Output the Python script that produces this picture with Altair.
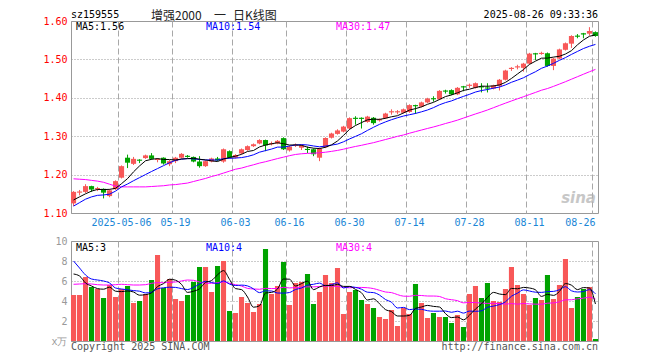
import altair as alt
import pandas as pd
import numpy as np

dates = [
    "2025-04-21", "2025-04-22", "2025-04-23", "2025-04-24", "2025-04-25", "2025-04-28", "2025-04-29", "2025-04-30",
    "2025-05-06", "2025-05-07", "2025-05-08", "2025-05-09", "2025-05-12", "2025-05-13", "2025-05-14", "2025-05-15", "2025-05-16",
    "2025-05-19", "2025-05-20", "2025-05-21", "2025-05-22", "2025-05-23", "2025-05-26", "2025-05-27", "2025-05-28", "2025-05-29", "2025-05-30",
    "2025-06-03", "2025-06-04", "2025-06-05", "2025-06-06", "2025-06-09", "2025-06-10", "2025-06-11", "2025-06-12", "2025-06-13",
    "2025-06-16", "2025-06-17", "2025-06-18", "2025-06-19", "2025-06-20", "2025-06-23", "2025-06-24", "2025-06-25", "2025-06-26", "2025-06-27",
    "2025-06-30", "2025-07-01", "2025-07-02", "2025-07-03", "2025-07-04", "2025-07-07", "2025-07-08", "2025-07-09", "2025-07-10", "2025-07-11",
    "2025-07-14", "2025-07-15", "2025-07-16", "2025-07-17", "2025-07-18", "2025-07-21", "2025-07-22", "2025-07-23", "2025-07-24", "2025-07-25",
    "2025-07-28", "2025-07-29", "2025-07-30", "2025-07-31", "2025-08-01", "2025-08-04", "2025-08-05", "2025-08-06", "2025-08-07", "2025-08-08",
    "2025-08-11", "2025-08-12", "2025-08-13", "2025-08-14", "2025-08-15", "2025-08-18", "2025-08-19", "2025-08-20", "2025-08-21", "2025-08-22",
    "2025-08-25", "2025-08-26",
]

opens = [1.125, 1.153, 1.155, 1.170, 1.162, 1.163, 1.144, 1.162, 1.192, 1.244,
         1.228, 1.239, 1.243, 1.250, 1.238, 1.244, 1.227, 1.235, 1.244, 1.249,
         1.246, 1.234, 1.222, 1.234, 1.242, 1.234, 1.261, 1.244, 1.255, 1.264,
         1.274, 1.281, 1.290, 1.279, 1.281, 1.295, 1.263, 1.275, 1.270, 1.267,
         1.266, 1.244, 1.271, 1.296, 1.306, 1.312, 1.320, 1.348, 1.348, 1.337,
         1.348, 1.341, 1.347, 1.362, 1.362, 1.361, 1.363, 1.381, 1.377, 1.388,
         1.399, 1.396, 1.419, 1.420, 1.409, 1.430, 1.431, 1.426, 1.430, 1.427,
         1.424, 1.431, 1.447, 1.475, 1.479, 1.478, 1.489, 1.516, 1.514, 1.516,
         1.483, 1.502, 1.525, 1.541, 1.562, 1.568, 1.567, 1.571]
closes = [1.155, 1.156, 1.170, 1.161, 1.165, 1.153, 1.159, 1.183, 1.222, 1.231,
          1.241, 1.236, 1.250, 1.241, 1.241, 1.229, 1.235, 1.244, 1.254, 1.246,
          1.234, 1.222, 1.235, 1.242, 1.237, 1.266, 1.244, 1.251, 1.266, 1.274,
          1.279, 1.290, 1.276, 1.282, 1.288, 1.266, 1.273, 1.278, 1.276, 1.264,
          1.253, 1.268, 1.295, 1.307, 1.315, 1.325, 1.347, 1.345, 1.345, 1.351,
          1.334, 1.344, 1.359, 1.365, 1.365, 1.370, 1.381, 1.378, 1.388, 1.398,
          1.396, 1.418, 1.416, 1.409, 1.426, 1.427, 1.434, 1.438, 1.427, 1.424,
          1.432, 1.447, 1.471, 1.478, 1.482, 1.489, 1.515, 1.513, 1.517, 1.483,
          1.502, 1.526, 1.542, 1.561, 1.559, 1.565, 1.574, 1.561]
highs = [1.157, 1.160, 1.175, 1.171, 1.168, 1.164, 1.162, 1.185, 1.224, 1.252,
         1.246, 1.240, 1.252, 1.256, 1.243, 1.245, 1.238, 1.246, 1.256, 1.251,
         1.247, 1.248, 1.237, 1.244, 1.246, 1.268, 1.263, 1.253, 1.268, 1.276,
         1.281, 1.292, 1.291, 1.286, 1.290, 1.297, 1.275, 1.281, 1.278, 1.273,
         1.268, 1.270, 1.297, 1.309, 1.318, 1.327, 1.349, 1.352, 1.349, 1.353,
         1.350, 1.346, 1.361, 1.370, 1.368, 1.372, 1.383, 1.382, 1.390, 1.400,
         1.404, 1.420, 1.421, 1.422, 1.428, 1.431, 1.437, 1.440, 1.438, 1.438,
         1.434, 1.449, 1.473, 1.480, 1.486, 1.491, 1.517, 1.517, 1.520, 1.518,
         1.504, 1.528, 1.544, 1.563, 1.566, 1.569, 1.584, 1.573]
lows = [1.118, 1.146, 1.152, 1.155, 1.157, 1.138, 1.141, 1.160, 1.190, 1.217,
        1.225, 1.230, 1.241, 1.239, 1.232, 1.226, 1.222, 1.230, 1.242, 1.244,
        1.232, 1.218, 1.220, 1.232, 1.235, 1.231, 1.242, 1.242, 1.253, 1.262,
        1.272, 1.279, 1.261, 1.276, 1.279, 1.264, 1.260, 1.272, 1.264, 1.256,
        1.248, 1.235, 1.269, 1.294, 1.304, 1.310, 1.318, 1.330, 1.320, 1.335,
        1.330, 1.338, 1.345, 1.356, 1.357, 1.359, 1.361, 1.358, 1.375, 1.386,
        1.390, 1.394, 1.411, 1.407, 1.407, 1.417, 1.426, 1.424, 1.414, 1.414,
        1.422, 1.419, 1.445, 1.470, 1.474, 1.468, 1.487, 1.498, 1.512, 1.481,
        1.472, 1.500, 1.523, 1.530, 1.555, 1.555, 1.562, 1.559]
volumes = [4.6, 4.6, 6.4, 5.4, 5.2, 4.3, 5.6, 4.4, 5.2, 5.5,
           3.8, 4.0, 4.7, 6.1, 8.6, 5.3, 6.2, 4.2, 4.0, 4.6,
           5.9, 7.4, 7.4, 4.9, 7.5, 8.0, 3.0, 2.8, 4.4, 3.8,
           2.9, 3.7, 9.2, 4.7, 5.5, 7.9, 3.6, 5.8, 5.9, 6.7,
           3.7, 4.9, 6.6, 5.8, 7.3, 2.7, 4.9, 5.1, 4.1, 3.7,
           3.3, 2.4, 2.2, 3.1, 1.5, 3.3, 2.7, 5.7, 3.8, 2.3,
           2.8, 2.4, 2.4, 1.8, 2.6, 1.4, 4.7, 5.5, 4.3, 5.8,
           4.0, 3.9, 5.2, 7.4, 5.6, 4.7, 3.6, 4.3, 4.1, 6.6,
           4.2, 5.6, 8.2, 3.3, 4.4, 5.2, 5.4, 0.2]

ma5_head = [1.134, 1.142, 1.150, 1.157]
ma10_head = [1.118, 1.127, 1.136, 1.142, 1.146, 1.147, 1.149, 1.157, 1.168]
ma30_head = [1.189, 1.188, 1.187, 1.185, 1.183, 1.180, 1.175, 1.170, 1.168, 1.168,
             1.168, 1.168, 1.168, 1.169, 1.170, 1.171, 1.173, 1.174, 1.176, 1.178,
             1.182, 1.186, 1.190, 1.195, 1.199, 1.204, 1.209, 1.214, 1.217]
vma5_head = [6.7, 6.5, 5.8, 5.5]
vma10_head = [8.0, 7.3, 6.6, 6.2, 6.1, 6.0, 5.8, 5.3, 5.2]
vma30_head = [5.67, 5.70, 5.73, 5.70, 5.63, 5.60, 5.60, 5.63, 5.67, 5.63,
              5.60, 5.60, 5.63, 5.77, 5.83, 5.83, 5.87, 5.90, 6.00, 6.10,
              6.07, 5.90, 5.77, 5.77, 5.83, 5.90, 5.77, 5.63, 5.50]

price_ticks = [1.1, 1.2, 1.3, 1.4, 1.5, 1.6]
vol_ticks = [0, 2, 4, 6, 8, 10]
date_ticks = ["2025-05-06", "2025-05-19", "2025-06-03", "2025-06-16", "2025-06-30",
              "2025-07-14", "2025-07-28", "2025-08-11", "2025-08-26"]

df = pd.DataFrame({"date": dates, "open": opens, "close": closes, "high": highs,
                   "low": lows, "vol": volumes})
df["dir"] = np.where(df["close"] >= df["open"], "up", "down")


def moving(series, w, head):
    m = series.rolling(w).mean()
    m.iloc[:len(head)] = head
    return m


df["MA5"] = moving(df["close"], 5, ma5_head)
df["MA10"] = moving(df["close"], 10, ma10_head)
df["MA30"] = moving(df["close"], 30, ma30_head)
df["VMA5"] = moving(df["vol"], 5, vma5_head)
df["VMA10"] = moving(df["vol"], 10, vma10_head)
df["VMA30"] = moving(df["vol"], 30, vma30_head)

MONO = "DejaVu Sans Mono"
RED = "#f85858"
GREEN = "#00a300"
GRID = "#a8a8a8"
W, H1, H2 = 527, 192, 100

dir_color = alt.Color("dir:N", scale=alt.Scale(domain=["up", "down"], range=[RED, GREEN]), legend=None)

x_top = alt.X(
    "date:O", sort=None, title=None,
    scale=alt.Scale(paddingInner=0.15, paddingOuter=0),
    axis=alt.Axis(values=date_ticks, bandPosition=0, grid=True, gridDash=[6, 3], gridColor=GRID,
                  ticks=False, domain=False, labelAngle=0, labelOverlap=False, labelPadding=4,
                  labelFont=MONO, labelFontSize=10, labelColor="#1a86d6",
                  labelAlign={"condition": {"test": "datum.value == '2025-08-26'", "value": "right"}, "value": "center"},
                  labelExpr="datum.value == '2025-05-06' ? datum.value : slice(datum.value, 5)"),
)
x_bot = alt.X(
    "date:O", sort=None, title=None,
    scale=alt.Scale(paddingInner=0.15, paddingOuter=0),
    axis=alt.Axis(values=date_ticks, bandPosition=0, grid=True, gridDash=[6, 3], gridColor=GRID,
                  ticks=False, domain=False, labels=False),
)
price_axis = alt.Axis(values=price_ticks, format=".2f", grid=True, gridDash=[1, 2], gridColor="#999",
                      ticks=False, domain=False, labelFont=MONO, labelFontSize=10, labelColor="#ff0000",
                      labelPadding=4, labelFlush=False)
price_scale = alt.Scale(domain=[1.1, 1.6], nice=False, zero=False)
vol_axis = alt.Axis(values=vol_ticks, grid=True, gridDash=[1, 2], gridColor="#999",
                    ticks=False, domain=False, labelFont=MONO, labelFontSize=10, labelColor="#999",
                    labelPadding=4, labelFlush=False,
                    labelExpr="datum.value == 0 ? 'x万' : datum.label")
vol_scale = alt.Scale(domain=[0, 10], nice=False)


def note(text, x, y, color, align="left", font=MONO, size=10, **kw):
    return alt.Chart(pd.DataFrame({"t": [text]})).mark_text(
        align=align, baseline="middle", font=font, fontSize=size, color=color, **kw
    ).encode(text="t:N", x=alt.value(x), y=alt.value(y))


base = alt.Chart(df)
wicks = base.mark_rule(strokeWidth=1).encode(
    x=x_top, y=alt.Y("low:Q", scale=price_scale, axis=price_axis, title=None), y2="high:Q", color=dir_color)
bodies = base.mark_bar().encode(
    x=x_top, y=alt.Y("open:Q", scale=price_scale, axis=price_axis, title=None), y2="close:Q", color=dir_color)
lines = [
    base.mark_line(color=c, strokeWidth=1).encode(
        x=x_top, y=alt.Y(f"{m}:Q", scale=price_scale, axis=price_axis, title=None))
    for m, c in [("MA30", "#ff00ff"), ("MA10", "#0000ff"), ("MA5", "#000000")]
]
anchor = alt.Chart(pd.DataFrame({"a": [0]})).mark_rule(opacity=0).encode(
    x=alt.value(-62), x2=alt.value(-61), y=alt.value(-12), y2=alt.value(-11))

TITLE_FONT = "Noto Sans CJK SC"
top = alt.layer(
    wicks, bodies, *lines,
    note("MA5:1.56", 5, 6, "#000000"),
    note("MA10:1.54", 135, 6, "#0000ff"),
    note("MA30:1.47", 265, 6, "#ff00ff"),
    note("sz159555", 0, -6, "#000000"),
    note("增强2000", 80, -5.5, "#222222", font=TITLE_FONT, size=12),
    note("一", 143, -5.5, "#222222", font=TITLE_FONT, size=12),
    note("日K线图", 162, -5.5, "#222222", font=TITLE_FONT, size=12),
    note("2025-08-26 09:33:36", W, -6, "#000000", align="right"),
    note("sina", W - 2, 177, "#b0b0b0", align="right", font="DejaVu Sans", size=15,
         fontStyle="italic", fontWeight="bold", opacity=0.7),
    anchor,
).properties(width=W, height=H1)

vbars = base.mark_bar().encode(
    x=x_bot, y=alt.Y("vol:Q", scale=vol_scale, axis=vol_axis, title=None), color=dir_color)
vlines = [
    base.mark_line(color=c, strokeWidth=1, interpolate="monotone").encode(
        x=x_bot, y=alt.Y(f"{m}:Q", scale=vol_scale, axis=vol_axis, title=None))
    for m, c in [("VMA30", "#ff00ff"), ("VMA10", "#0000ff"), ("VMA5", "#000000")]
]
bottom = alt.layer(
    vbars, *vlines,
    note("MA5:3", 5, 6.5, "#000000"),
    note("MA10:4", 135, 6.5, "#0000ff"),
    note("MA30:4", 265, 6.5, "#ff00ff"),
    note("Copyright 2025 SINA.COM", 0, 105.5, "#555555"),
    note("http://finance.sina.com.cn", W, 105.5, "#555555", align="right"),
).properties(width=W, height=H2)

chart = alt.vconcat(top, bottom, spacing=28, bounds="flush").properties(
    padding=0, background="white"
).configure_view(stroke="#999999", strokeWidth=1)

chart.save("out.html", embed_options={"renderer": "svg", "actions": False})
